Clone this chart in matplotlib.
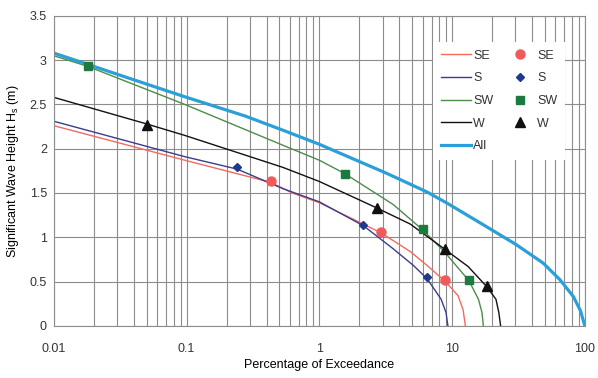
import matplotlib
matplotlib.use('Agg')
import matplotlib.pyplot as plt
from matplotlib.ticker import LogLocator, NullFormatter, FixedLocator

matplotlib.rcParams['font.family'] = ['Liberation Sans', 'DejaVu Sans']
matplotlib.rcParams['text.color'] = '#333333'

# curves: percentage of exceedance (x) vs Hs (y)
se_x = [0.01, 0.097, 0.43, 0.625, 1.0, 2.92, 4.83, 6.5, 8.9, 11.1, 12.1, 12.6]
se_y = [2.26, 1.87, 1.62, 1.50, 1.39, 1.05, 0.84, 0.68, 0.50, 0.34, 0.18, 0.0]
s_x = [0.01, 0.097, 0.24, 0.53, 1.0, 2.15, 3.6, 5.13, 6.5, 8.27, 9.0, 9.3]
s_y = [2.31, 1.91, 1.77, 1.55, 1.40, 1.13, 0.87, 0.68, 0.53, 0.30, 0.15, 0.0]
sw_x = [0.01, 0.018, 0.097, 0.55, 1.0, 1.55, 3.6, 6.05, 8.7, 13.4, 15.8, 16.8, 17.2]
sw_y = [3.05, 2.93, 2.50, 2.03, 1.87, 1.72, 1.37, 1.08, 0.84, 0.51, 0.30, 0.15, 0.0]
w_x = [0.01, 0.05, 0.097, 0.53, 1.0, 2.72, 4.83, 8.9, 13.2, 18.3, 21.4, 22.5, 23.2]
w_y = [2.58, 2.28, 2.15, 1.79, 1.63, 1.33, 1.15, 0.86, 0.67, 0.44, 0.30, 0.15, 0.0]
all_x = [0.01, 0.05, 0.1, 0.275, 0.53, 1.0, 3.24, 6.5, 9.3, 16.8, 30.2, 48.4, 65, 82, 92.7, 100]
all_y = [3.08, 2.73, 2.58, 2.37, 2.21, 2.05, 1.72, 1.51, 1.38, 1.15, 0.92, 0.71, 0.52, 0.33, 0.17, 0.0]

# markers
se_mx = [0.43, 2.92, 8.9]
se_my = [1.63, 1.06, 0.52]
s_mx = [0.24, 2.15, 6.5]
s_my = [1.79, 1.14, 0.55]
sw_mx = [0.018, 1.55, 6.05, 13.4]
sw_my = [2.93, 1.71, 1.09, 0.52]
w_mx = [0.05, 2.72, 8.9, 18.3]
w_my = [2.27, 1.33, 0.87, 0.45]

xticks = [0.01, 0.1, 1, 10, 100]
xtick_labels = ['0.01', '0.1', '1', '10', '100']
yticks = [0, 0.5, 1, 1.5, 2, 2.5, 3, 3.5]
ytick_labels = ['0', '0.5', '1', '1.5', '2', '2.5', '3', '3.5']

fig = plt.figure(figsize=(5.98, 3.78), dpi=100)
ax = fig.add_axes([0.090, 0.138, 0.888, 0.820])

l1, = ax.plot(se_x, se_y, color='#f26b5b', lw=1.0)
l2, = ax.plot(s_x, s_y, color='#3a3d8c', lw=1.0)
l3, = ax.plot(sw_x, sw_y, color='#4c8c4c', lw=1.0)
l4, = ax.plot(w_x, w_y, color='#111111', lw=1.0)
l5, = ax.plot(all_x, all_y, color='#2a9fd8', lw=2.3)

m1, = ax.plot(se_mx, se_my, 'o', color='#f25a5a', ms=6.5, ls='none')
m2, = ax.plot(s_mx, s_my, 'D', color='#1f3a8a', ms=4.5, ls='none')
m3, = ax.plot(sw_mx, sw_my, 's', color='#1d7a3e', ms=6.2, ls='none')
m4, = ax.plot(w_mx, w_my, '^', color='#111111', ms=6.5, ls='none')

ax.set_xscale('log')
ax.set_xlim(0.01, 100)
ax.set_ylim(0, 3.5)
ax.xaxis.set_major_locator(FixedLocator(xticks))
ax.set_xticklabels(xtick_labels)
ax.xaxis.set_minor_locator(LogLocator(base=10, subs=range(2, 10)))
ax.xaxis.set_minor_formatter(NullFormatter())
ax.set_yticks(yticks)
ax.set_yticklabels(ytick_labels)

ax.grid(which='both', axis='x', color='#8c8c8c', lw=0.8)
ax.grid(which='major', axis='y', color='#8c8c8c', lw=0.8)
for sp in ax.spines.values():
    sp.set_color('#8c8c8c')
    sp.set_linewidth(0.8)
ax.tick_params(which='both', length=0, labelsize=9, colors='#333333')
ax.tick_params(axis='x', pad=12)
ax.tick_params(axis='y', pad=5)

ax.set_xlabel('Percentage of Exceedance', fontsize=9, labelpad=3)
ax.set_ylabel('Significant Wave Height $\\mathregular{H_s}$ (m)', fontsize=9, labelpad=6)

leg = ax.legend([l1, l2, l3, l4, l5, m1, m2, m3, m4],
                ['SE', 'S', 'SW', 'W', 'All', 'SE', 'S', 'SW', 'W'],
                ncol=2, loc='upper left', bbox_to_anchor=(0.703, 0.935),
                fontsize=9, frameon=True, fancybox=False, framealpha=1,
                handlelength=2.4, handletextpad=0.2, columnspacing=0.9,
                labelspacing=0.85, borderpad=0.6)
leg.get_frame().set_edgecolor('none')
leg.get_frame().set_facecolor('white')

plt.savefig('out.png', dpi=100)
